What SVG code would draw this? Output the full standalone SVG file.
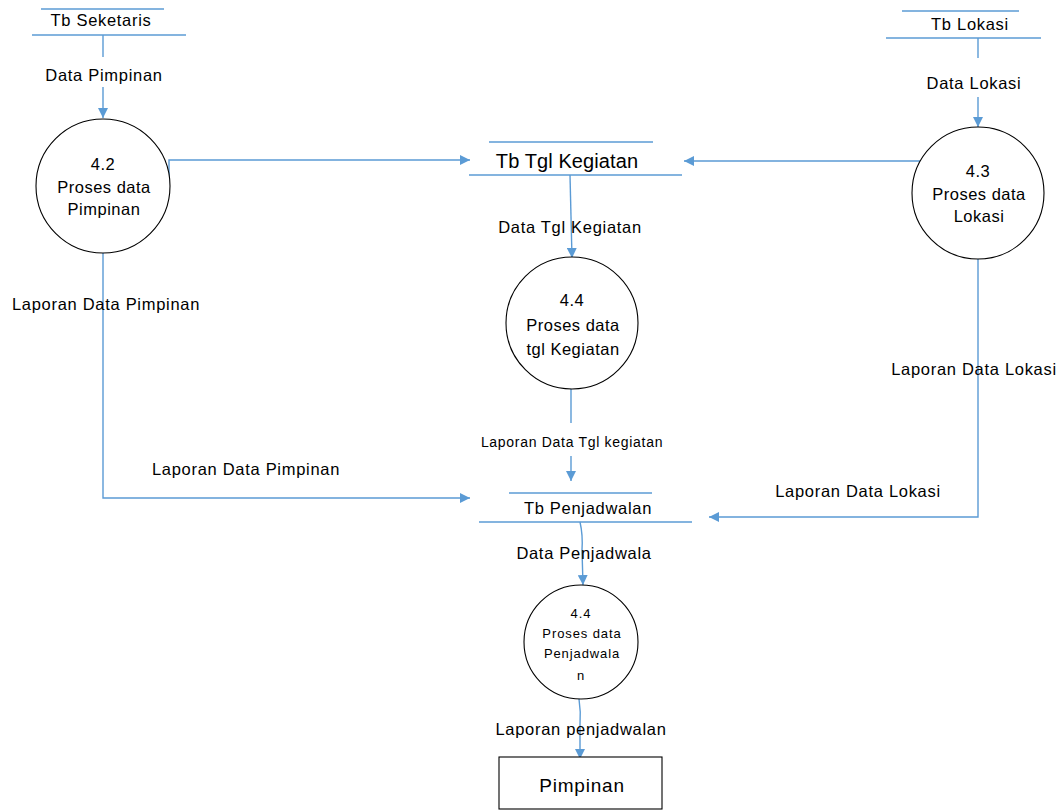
<svg xmlns="http://www.w3.org/2000/svg" width="1060" height="810" viewBox="0 0 1060 810">
  <style>
    .flow { fill: none; stroke: #5B9BD5; stroke-width: 1.4; }
    .store { fill: none; stroke: #5B9BD5; stroke-width: 1.4; }
    .proc { fill: #FFFFFF; stroke: #000000; stroke-width: 1.1; }
    .ent { fill: #FFFFFF; stroke: #000000; stroke-width: 1.1; }
    text { font-family: "Liberation Sans", Arial, sans-serif; fill: #000000; text-anchor: middle; }
    .lbl { font-size: 16.5px; letter-spacing: 0.7px; }
    .sm { font-size: 14px; letter-spacing: 0.7px; }
    .big { font-size: 20px; letter-spacing: 0.1px; }
    .ent-txt { font-size: 19px; letter-spacing: 0.8px; }
    .node { font-size: 16.5px; letter-spacing: 0.5px; }
    .tiny { font-size: 13px; letter-spacing: 0.9px; }
  </style>
  <defs>
    <marker id="arrow" viewBox="0 0 10 10" refX="10" refY="5" markerWidth="10" markerHeight="10" markerUnits="userSpaceOnUse" orient="auto">
      <path d="M0,0 L10,5 L0,10 Z" fill="#5B9BD5"/>
    </marker>
  </defs>

  <rect width="1060" height="810" fill="#FFFFFF"/>

  <!-- data flows -->
  <g id="connectors">
    <!-- Tb Seketaris -> 4.2 -->
    <line class="flow" x1="103" y1="35" x2="103" y2="57"/>
    <line class="flow" x1="103" y1="87" x2="103" y2="118" marker-end="url(#arrow)"/>
    <!-- 4.2 -> Tb Tgl Kegiatan -->
    <polyline class="flow" points="169,186 169,160 470,160" marker-end="url(#arrow)"/>
    <!-- 4.3 -> Tb Tgl Kegiatan -->
    <polyline class="flow" points="931,148 931,161 684,161" marker-end="url(#arrow)"/>
    <!-- Tb Lokasi -> 4.3 -->
    <line class="flow" x1="978" y1="38" x2="978" y2="58"/>
    <line class="flow" x1="978" y1="97" x2="978" y2="127" marker-end="url(#arrow)"/>
    <!-- Tb Tgl Kegiatan -> 4.4 -->
    <line class="flow" x1="570" y1="175" x2="572" y2="258" marker-end="url(#arrow)"/>
    <!-- 4.4 -> Tb Penjadwalan -->
    <line class="flow" x1="571" y1="388" x2="571" y2="423"/>
    <line class="flow" x1="571" y1="456" x2="571" y2="481" marker-end="url(#arrow)"/>
    <!-- 4.2 -> Tb Penjadwalan -->
    <polyline class="flow" points="103,253 103,498 470,498" marker-end="url(#arrow)"/>
    <!-- 4.3 -> Tb Penjadwalan -->
    <polyline class="flow" points="978,259 978,517 709,517" marker-end="url(#arrow)"/>
    <!-- Tb Penjadwalan -> 4.4 Penjadwalan -->
    <path class="flow" d="M580,522 Q583,535 582,550 L583,585" marker-end="url(#arrow)"/>
    <!-- 4.4 Penjadwalan -> Pimpinan -->
    <path class="flow" d="M579,699 Q581,712 580,725 L580,759" marker-end="url(#arrow)"/>
  </g>

  <!-- flow labels -->
  <g id="flow-labels">
    <text class="lbl" x="104" y="81">Data Pimpinan</text>
    <text class="lbl" x="974" y="89">Data Lokasi</text>
    <text class="lbl" x="570" y="233">Data Tgl Kegiatan</text>
    <text class="lbl" x="106" y="310">Laporan Data Pimpinan</text>
    <text class="lbl" x="974" y="375">Laporan Data Lokasi</text>
    <text class="sm" x="572" y="447">Laporan Data Tgl kegiatan</text>
    <text class="lbl" x="246" y="475">Laporan Data Pimpinan</text>
    <text class="lbl" x="858" y="497">Laporan Data Lokasi</text>
    <text class="lbl" x="584" y="559">Data Penjadwala</text>
    <text class="lbl" x="581" y="735">Laporan penjadwalan</text>
  </g>

  <!-- data stores -->
  <g id="tb-seketaris">
    <line class="store" x1="41" y1="9" x2="164" y2="9"/>
    <line class="store" x1="32" y1="35" x2="186" y2="35"/>
    <text class="lbl" x="101" y="26">Tb Seketaris</text>
  </g>
  <g id="tb-lokasi">
    <line class="store" x1="902" y1="11" x2="1019" y2="11"/>
    <line class="store" x1="886" y1="38" x2="1041" y2="38"/>
    <text class="lbl" x="970" y="30">Tb Lokasi</text>
  </g>
  <g id="tb-tgl-kegiatan">
    <line class="store" x1="489" y1="142" x2="653" y2="142"/>
    <line class="store" x1="469" y1="175" x2="682" y2="175"/>
    <text class="big" x="567" y="168">Tb Tgl Kegiatan</text>
  </g>
  <g id="tb-penjadwalan">
    <line class="store" x1="509" y1="493" x2="652" y2="493"/>
    <line class="store" x1="479" y1="522" x2="692" y2="522"/>
    <text class="lbl" x="588" y="514">Tb Penjadwalan</text>
  </g>

  <!-- processes -->
  <g id="proses-4-2">
    <circle class="proc" cx="103" cy="186" r="67"/>
    <text class="node" x="103" y="170">4.2</text>
    <text class="node" x="104" y="193">Proses data</text>
    <text class="node" x="104" y="215">Pimpinan</text>
  </g>
  <g id="proses-4-3">
    <circle class="proc" cx="978" cy="193" r="66"/>
    <text class="node" x="978" y="177">4.3</text>
    <text class="node" x="979" y="200">Proses data</text>
    <text class="node" x="979" y="222">Lokasi</text>
  </g>
  <g id="proses-4-4-kegiatan">
    <circle class="proc" cx="572" cy="323" r="66"/>
    <text class="node" x="572" y="306">4.4</text>
    <text class="node" x="573" y="331">Proses data</text>
    <text class="node" x="573" y="355">tgl Kegiatan</text>
  </g>
  <g id="proses-4-4-penjadwalan">
    <circle class="proc" cx="581" cy="642" r="57"/>
    <text class="tiny" x="581" y="618">4.4</text>
    <text class="tiny" x="582" y="638">Proses data</text>
    <text class="tiny" x="582" y="658">Penjadwala</text>
    <text class="tiny" x="581" y="680">n</text>
  </g>

  <!-- external entity -->
  <g id="pimpinan">
    <rect class="ent" x="499" y="757" width="163" height="52"/>
    <text class="ent-txt" x="582" y="792">Pimpinan</text>
  </g>
</svg>
